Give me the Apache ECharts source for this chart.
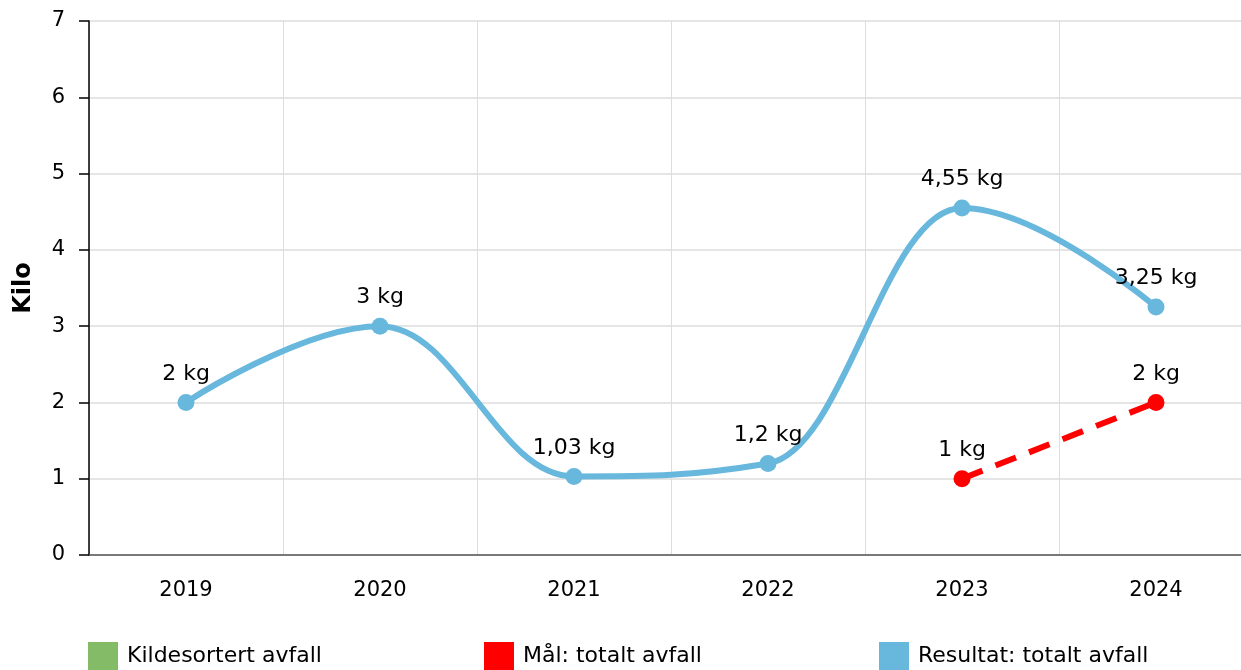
<!DOCTYPE html>
<html>
<head>
<meta charset="utf-8">
<script src="https://cdn.jsdelivr.net/npm/echarts@6/dist/echarts.min.js"></script>
<style>
html,body{margin:0;padding:0;background:#fff;}
#chart{width:1241px;height:670px;}
</style>
</head>
<body>
<div id="chart"></div>
<script>
var categories = ['2019', '2020', '2021', '2022', '2023', '2024'];
var resultat = [2, 3, 1.03, 1.2, 4.55, 3.25];
var maal = [null, null, null, null, 1, 2];
var kildesortert = [];
var yTicks = [0, 1, 2, 3, 4, 5, 6, 7];

var FONT = '"DejaVu Sans", Verdana, sans-serif';
var BLUE = '#68b7dc';
function fmt(v) { return String(v).replace('.', ',') + ' kg'; }

// spline path through the library's coordinate system (Highcharts-style spline)
function renderSpline(params, api) {
  var pts = resultat.map(function (v, i) { return api.coord([i, v]); });
  var n = pts.length, sm = 1.5, den = 2.5;
  var L = [], R = [];
  for (var i = 0; i < n; i++) {
    var p = pts[i], a = pts[i - 1], b = pts[i + 1];
    if (a && b) {
      var lx = (sm * p[0] + a[0]) / den, ly = (sm * p[1] + a[1]) / den;
      var rx = (sm * p[0] + b[0]) / den, ry = (sm * p[1] + b[1]) / den;
      var corr = ((ry - ly) * (rx - p[0])) / (rx - lx) + p[1] - ry;
      ly += corr; ry += corr;
      if (ly > a[1] && ly > p[1]) { ly = Math.max(a[1], p[1]); ry = 2 * p[1] - ly; }
      else if (ly < a[1] && ly < p[1]) { ly = Math.min(a[1], p[1]); ry = 2 * p[1] - ly; }
      if (ry > b[1] && ry > p[1]) { ry = Math.max(b[1], p[1]); ly = 2 * p[1] - ry; }
      else if (ry < b[1] && ry < p[1]) { ry = Math.min(b[1], p[1]); ly = 2 * p[1] - ry; }
      L[i] = [lx, ly]; R[i] = [rx, ry];
    } else {
      L[i] = p; R[i] = p;
    }
  }
  var children = [];
  for (var j = 1; j < n; j++) {
    children.push({
      type: 'bezierCurve',
      shape: {x1: pts[j-1][0], y1: pts[j-1][1], cpx1: R[j-1][0], cpy1: R[j-1][1],
              cpx2: L[j][0], cpy2: L[j][1], x2: pts[j][0], y2: pts[j][1]},
      style: {stroke: BLUE, lineWidth: 6, fill: null, lineCap: 'round'}
    });
  }
  return {type: 'group', children: children};
}

var chart = echarts.init(document.getElementById('chart'), null, {renderer: 'canvas'});
var legendBase = {
  bottom: 0, icon: 'rect', itemWidth: 30, itemHeight: 28, itemGap: 0,
  textStyle: {fontFamily: FONT, fontSize: 22, color: '#000', padding: [0, 0, 0, 4]},
  selectedMode: false, padding: 0
};
chart.setOption({
  animation: false,
  grid: {left: 89, width: 1164, top: 21, bottom: 115, containLabel: false, outerBoundsMode: 'none'},
  legend: [
    Object.assign({}, legendBase, {left: 88, data: ['Kildesortert avfall']}),
    Object.assign({}, legendBase, {left: 484, data: ['Mål: totalt avfall']}),
    Object.assign({}, legendBase, {left: 879, data: ['Resultat: totalt avfall']})
  ],
  xAxis: {
    type: 'category', data: categories, boundaryGap: true,
    axisLine: {lineStyle: {color: '#555', width: 1.5}},
    axisTick: {alignWithLabel: true, length: 8, lineStyle: {color: '#999'}},
    axisLabel: {fontFamily: FONT, fontSize: 21, color: '#000', margin: 25},
    splitLine: {show: true, lineStyle: {color: '#ddd'}}
  },
  yAxis: {
    type: 'value', min: yTicks[0], max: yTicks[yTicks.length - 1], interval: 1,
    name: 'Kilo', nameLocation: 'middle', nameGap: 53, nameRotate: 90,
    nameTextStyle: {fontFamily: FONT, fontSize: 24, fontWeight: 'bold', color: '#000'},
    axisLine: {show: true, lineStyle: {color: '#000', width: 1.5}},
    axisTick: {show: true, length: 10, lineStyle: {color: '#000', width: 1.5}},
    axisLabel: {fontFamily: FONT, fontSize: 21, color: '#000', margin: 24},
    splitLine: {lineStyle: {color: '#ddd', width: 1.5}}
  },
  series: [
    {
      name: 'Kildesortert avfall', type: 'bar', data: kildesortert,
      itemStyle: {color: '#84bb66'}
    },
    {
      name: 'Mål: totalt avfall', type: 'line', data: maal,
      itemStyle: {color: '#ff0000'},
      lineStyle: {color: '#ff0000', width: 6, type: [22, 14]},
      symbol: 'circle', symbolSize: 17,
      label: {show: true, position: 'top', distance: 9, formatter: function(p){return fmt(p.value);},
        fontFamily: FONT, fontSize: 22, color: '#000'},
      z: 4
    },
    {
      name: 'Resultat: totalt avfall', type: 'custom', data: [0],
      renderItem: renderSpline, itemStyle: {color: BLUE}, z: 2, silent: true
    },
    {
      name: 'Resultat: totalt avfall', type: 'line', data: resultat,
      itemStyle: {color: BLUE},
      lineStyle: {width: 0, opacity: 0},
      symbol: 'circle', symbolSize: 17,
      label: {show: true, position: 'top', distance: 9, formatter: function(p){return fmt(p.value);},
        fontFamily: FONT, fontSize: 22, color: '#000'},
      z: 3
    }
  ]
});
</script>
</body>
</html>
